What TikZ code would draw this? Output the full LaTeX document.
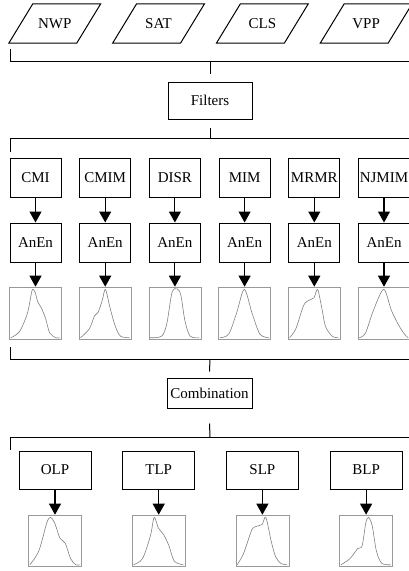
\documentclass[tikz,border=0pt]{standalone}
\usepackage{fontspec}
\setmainfont{Liberation Serif}
\usetikzlibrary{positioning, arrows.meta, calc}

\begin{document}
\begin{tikzpicture}[x=1pt, y=-1pt, node distance=69.7pt, on grid,
    font=\fontsize{15}{18}\selectfont,
    data/.style={rectangle, minimum width=67.5pt, minimum height=39pt, inner sep=0pt},
    frame/.style={line width=1pt, line join=miter},
    box/.style={draw, rectangle, minimum width=51pt, minimum height=39pt, inner sep=1pt, line width=1pt},
    pdfbox/.style={draw=gray!80, minimum width=52pt, minimum height=52pt, inner sep=0pt, line width=0.6pt},
    curve/.style={gray, line width=0.6pt},
    bracket/.style={line width=1pt},
    arrow/.style={-{Triangle[length=11pt, width=12pt]}, line width=1.1pt}]
    \useasboundingbox (0,0) rectangle (409,571);

    % input data
    \node (nwp) [data] at (54.75,23.5) {NWP};
    \node (sat) [data, right = 103.8pt of nwp] {SAT};
    \node (cls) [data, right = 103.8pt of sat] {CLS};
    \node (vpp) [data, right = 103.8pt of cls] {VPP};
    \foreach \n in {nwp, sat, cls, vpp}
        \draw [frame] ($(\n.south west)+(-12,0)$) -- ($(\n.south east)+(-12,0)$)
            -- ($(\n.north east)+(12,0)$) -- ($(\n.north west)+(12,0)$) -- cycle;

    \node (filters) [box, minimum width=84pt, minimum height=37pt] at (210,100.5) {Filters};

    % filters
    \node (cmi) [box] at (35.5,177.5) {CMI};
    \node (cmim) [box, right = of cmi] {CMIM};
    \node (disr) [box, right = of cmim] {DISR};
    \node (mim) [box, right = of disr] {MIM};
    \node (mrmr) [box, right = of mim] {MRMR};
    \node (njmim) [box, right = of mrmr] {NJMIM};

    \node (an1) [box, below = 65pt of cmi] {AnEn};
    \node (an2) [box, below = 65pt of cmim] {AnEn};
    \node (an3) [box, below = 65pt of disr] {AnEn};
    \node (an4) [box, below = 65pt of mim] {AnEn};
    \node (an5) [box, below = 65pt of mrmr] {AnEn};
    \node (an6) [box, below = 65pt of njmim] {AnEn};

    \node (pd1) [pdfbox, below = 70.5pt of an1] {};
    \node (pd2) [pdfbox, below = 70.5pt of an2] {};
    \node (pd3) [pdfbox, below = 70.5pt of an3] {};
    \node (pd4) [pdfbox, below = 70.5pt of an4] {};
    \node (pd5) [pdfbox, below = 70.5pt of an5] {};
    \node (pd6) [pdfbox, below = 70.5pt of an6] {};

    \node (comb) [box, minimum width=85pt, minimum height=30pt] at (209.5,393) {Combination};

    % combinations
    \node (olp) [box, minimum width=72pt, minimum height=38pt] at (55,470) {OLP};
    \node (tlp) [box, minimum width=72pt, minimum height=38pt, right = 103.7pt of olp] {TLP};
    \node (slp) [box, minimum width=72pt, minimum height=38pt, right = 103.7pt of tlp] {SLP};
    \node (blp) [box, minimum width=72pt, minimum height=38pt, right = 103.7pt of slp] {BLP};

    \node (po) [pdfbox, minimum width=53pt, minimum height=51pt, below = 70.5pt of olp] {};
    \node (pt) [pdfbox, minimum width=53pt, minimum height=51pt, below = 70.5pt of tlp] {};
    \node (ps) [pdfbox, minimum width=53pt, minimum height=51pt, below = 70.5pt of slp] {};
    \node (pb) [pdfbox, minimum width=53pt, minimum height=51pt, below = 70.5pt of blp] {};

    % brackets
    \coordinate (b1t) at (10,49);
    \coordinate (b1r) at (409,61);
    \coordinate (b1m) at (210,61);
    \coordinate (b2t) at (10,152);
    \coordinate (b2r) at (409,138);
    \coordinate (b2m) at (210,138);
    \coordinate (b3t) at (10,347);
    \coordinate (b3r) at (409,359);
    \coordinate (b3m) at (210,359);
    \coordinate (b4t) at (10,450);
    \coordinate (b4r) at (409,437);
    \coordinate (b4m) at (210,437);

    \draw [bracket] (b1t) |- (b1r);
    \draw [bracket] (b1m) -- ($(filters.north)+(0,-8)$);
    \draw [bracket] ($(filters.south)+(0,8)$) -- (b2m);
    \draw [bracket] (b2t) |- (b2r);
    \draw [bracket] (b3t) |- (b3r);
    \draw [bracket] (b3m) -- ($(comb.north)+(0,-6)$);
    \draw [bracket] ($(comb.south)+(0,15)$) -- (b4m);
    \draw [bracket] (b4t) |- (b4r);

    % arrows
    \draw [arrow] (cmi) -- (an1);
    \draw [arrow] (cmim) -- (an2);
    \draw [arrow] (disr) -- (an3);
    \draw [arrow] (mim) -- (an4);
    \draw [arrow] (mrmr) -- (an5);
    \draw [arrow] (njmim) -- (an6);
    \draw [arrow] (an1) -- (pd1);
    \draw [arrow] (an2) -- (pd2);
    \draw [arrow] (an3) -- (pd3);
    \draw [arrow] (an4) -- (pd4);
    \draw [arrow] (an5) -- (pd5);
    \draw [arrow] (an6) -- (pd6);
    \draw [arrow] (olp) -- (po);
    \draw [arrow] (tlp) -- (pt);
    \draw [arrow] (slp) -- (ps);
    \draw [arrow] (blp) -- (pb);

    % distributions
    \begin{scope}[shift={(pd1.south west)}, x=52pt, y=52pt]
        \draw [curve] plot [smooth] coordinates {(0.03,0.03) (0.2,0.15) (0.35,0.5) (0.43,0.9) (0.46,0.96) (0.5,0.9) (0.55,0.72) (0.62,0.6) (0.7,0.4) (0.78,0.12) (0.9,0.03) (0.97,0.03)};
    \end{scope}
    \begin{scope}[shift={(pd2.south west)}, x=52pt, y=52pt]
        \draw [curve] plot [smooth] coordinates {(0.03,0.03) (0.2,0.2) (0.3,0.45) (0.37,0.52) (0.45,0.75) (0.51,0.96) (0.6,0.6) (0.7,0.25) (0.8,0.06) (0.97,0.03)};
    \end{scope}
    \begin{scope}[shift={(pd3.south west)}, x=52pt, y=52pt]
        \draw [curve] plot [smooth] coordinates {(0.03,0.03) (0.25,0.06) (0.35,0.3) (0.45,0.9) (0.55,0.97) (0.62,0.85) (0.7,0.35) (0.8,0.06) (0.97,0.03)};
    \end{scope}
    \begin{scope}[shift={(pd4.south west)}, x=52pt, y=52pt]
        \draw [curve] plot [smooth] coordinates {(0.03,0.03) (0.2,0.1) (0.35,0.5) (0.5,0.96) (0.65,0.5) (0.8,0.1) (0.97,0.03)};
    \end{scope}
    \begin{scope}[shift={(pd5.south west)}, x=52pt, y=52pt]
        \draw [curve] plot [smooth] coordinates {(0.03,0.03) (0.15,0.2) (0.3,0.65) (0.4,0.75) (0.5,0.8) (0.57,0.96) (0.65,0.6) (0.72,0.25) (0.85,0.06) (0.97,0.03)};
    \end{scope}
    \begin{scope}[shift={(pd6.south west)}, x=52pt, y=52pt]
        \draw [curve] plot [smooth] coordinates {(0.03,0.03) (0.15,0.12) (0.3,0.55) (0.5,0.96) (0.65,0.55) (0.8,0.25) (0.9,0.1) (0.97,0.03)};
    \end{scope}
    \begin{scope}[shift={(po.south west)}, x=53pt, y=51pt]
        \draw [curve] plot [smooth] coordinates {(0.03,0.03) (0.2,0.3) (0.35,0.85) (0.42,0.96) (0.5,0.85) (0.6,0.55) (0.7,0.45) (0.8,0.15) (0.9,0.03) (0.97,0.03)};
    \end{scope}
    \begin{scope}[shift={(pt.south west)}, x=53pt, y=51pt]
        \draw [curve] plot [smooth] coordinates {(0.03,0.03) (0.2,0.15) (0.35,0.6) (0.42,0.96) (0.5,0.75) (0.6,0.62) (0.7,0.4) (0.8,0.1) (0.97,0.03)};
    \end{scope}
    \begin{scope}[shift={(ps.south west)}, x=53pt, y=51pt]
        \draw [curve] plot [smooth] coordinates {(0.03,0.03) (0.15,0.25) (0.3,0.7) (0.38,0.78) (0.5,0.82) (0.57,0.96) (0.67,0.5) (0.75,0.2) (0.85,0.06) (0.97,0.03)};
    \end{scope}
    \begin{scope}[shift={(pb.south west)}, x=53pt, y=51pt]
        \draw [curve] plot [smooth] coordinates {(0.03,0.03) (0.2,0.15) (0.35,0.35) (0.43,0.4) (0.5,0.85) (0.55,0.96) (0.62,0.8) (0.7,0.3) (0.8,0.06) (0.97,0.03)};
    \end{scope}
\end{tikzpicture}
\end{document}
